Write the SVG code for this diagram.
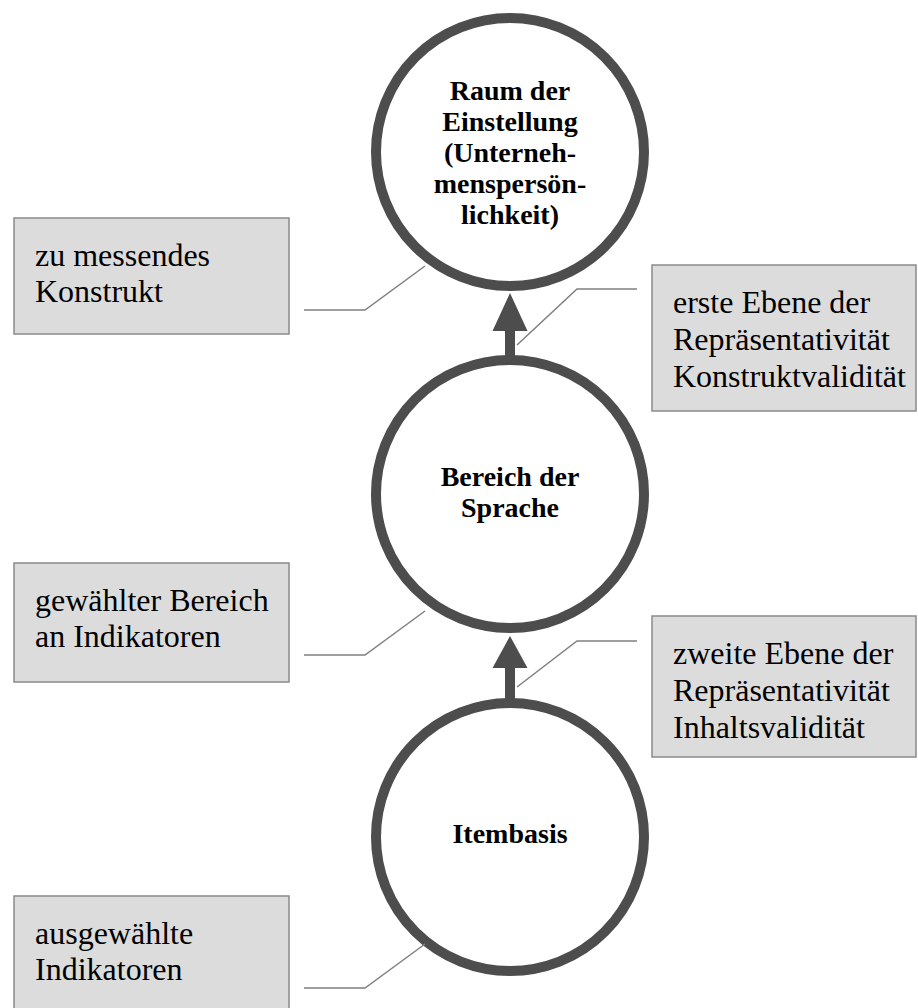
<svg xmlns="http://www.w3.org/2000/svg" width="918" height="1008" viewBox="0 0 918 1008">
  <style>
    .level { fill: #ffffff; stroke: #4d4d4d; stroke-width: 10; }
    .level-label { font-family: "Liberation Serif", "Times New Roman", serif; font-size: 28px; font-weight: bold; fill: #000000; text-anchor: middle; }
    .note { fill: #dcdcdc; stroke: #8a8a8a; stroke-width: 1.5; }
    .note-label { font-family: "Liberation Serif", "Times New Roman", serif; font-size: 32px; fill: #000000; }
    .leader { fill: none; stroke: #808080; stroke-width: 1.5; }
    .step-shaft { stroke: #4d4d4d; stroke-width: 10; }
    .step-head { fill: #4d4d4d; }
  </style>

  <rect width="918" height="1008" fill="#ffffff"/>

  <!-- annotation boxes -->
  <g id="note-konstrukt">
    <rect class="note" x="14" y="218" width="275" height="116"/>
    <text class="note-label" x="35" y="266">zu messendes</text>
    <text class="note-label" x="35" y="302">Konstrukt</text>
  </g>
  <g id="note-ebene1">
    <rect class="note" x="652" y="265" width="264" height="146"/>
    <text class="note-label" x="673" y="313">erste Ebene der</text>
    <text class="note-label" x="673" y="350">Repräsentativität</text>
    <text class="note-label" x="673" y="387">Konstruktvalidität</text>
  </g>
  <g id="note-bereich">
    <rect class="note" x="14" y="563" width="275" height="119"/>
    <text class="note-label" x="35" y="611">gewählter Bereich</text>
    <text class="note-label" x="35" y="647">an Indikatoren</text>
  </g>
  <g id="note-ebene2">
    <rect class="note" x="652" y="616" width="264" height="141"/>
    <text class="note-label" x="673" y="664">zweite Ebene der</text>
    <text class="note-label" x="673" y="701">Repräsentativität</text>
    <text class="note-label" x="673" y="738">Inhaltsvalidität</text>
  </g>
  <g id="note-indikatoren">
    <rect class="note" x="14" y="896" width="275" height="130"/>
    <text class="note-label" x="35" y="944">ausgewählte</text>
    <text class="note-label" x="35" y="980">Indikatoren</text>
  </g>

  <!-- levels -->
  <g id="level-einstellung">
    <circle class="level" cx="510" cy="152" r="134"/>
    <text class="level-label" x="510" y="100">Raum der</text>
    <text class="level-label" x="510" y="131">Einstellung</text>
    <text class="level-label" x="510" y="162">(Unterneh-</text>
    <text class="level-label" x="510" y="193">menspersön-</text>
    <text class="level-label" x="510" y="224">lichkeit)</text>
  </g>
  <g id="level-sprache">
    <circle class="level" cx="510" cy="494" r="134"/>
    <text class="level-label" x="510" y="486">Bereich der</text>
    <text class="level-label" x="510" y="517">Sprache</text>
  </g>
  <g id="level-itembasis">
    <circle class="level" cx="510" cy="837" r="134"/>
    <text class="level-label" x="510" y="843">Itembasis</text>
  </g>

  <!-- connectors: upward steps and leader lines -->
  <g id="connectors">
    <line class="step-shaft" x1="510" y1="360" x2="510" y2="326"/>
    <polygon class="step-head" points="510,293 527.5,331 492.5,331"/>
    <line class="step-shaft" x1="510" y1="703" x2="510" y2="664"/>
    <polygon class="step-head" points="510,636 527.5,668 492.5,668"/>

    <polyline class="leader" points="304,310 365,310 425,266"/>
    <polyline class="leader" points="637,289 577,289 517,345"/>
    <polyline class="leader" points="304,655 365,655 425,611"/>
    <polyline class="leader" points="637,641 577,641 517,687"/>
    <polyline class="leader" points="304,988 365,988 425,944"/>
  </g>
</svg>
